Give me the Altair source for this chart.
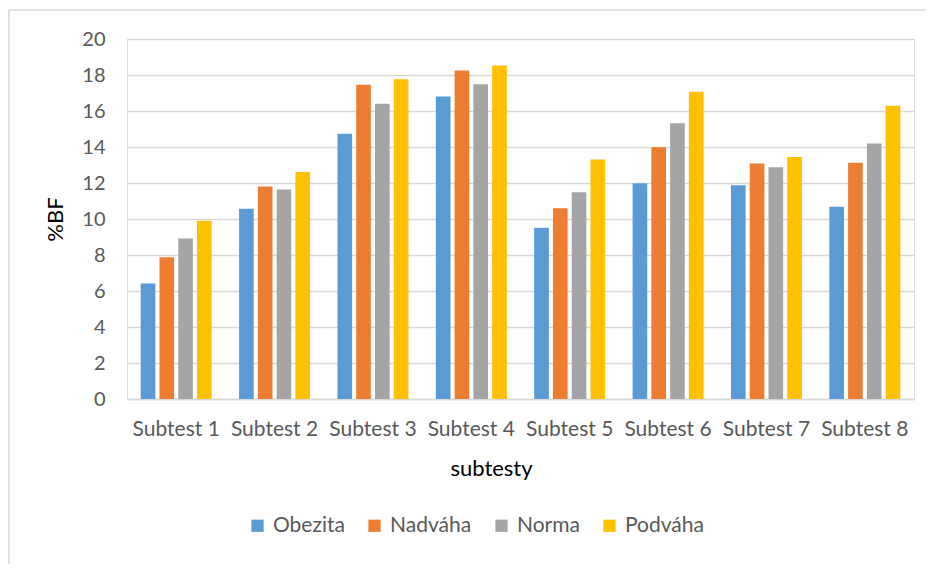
import altair as alt
import pandas as pd

categories = ["Subtest 1", "Subtest 2", "Subtest 3", "Subtest 4",
              "Subtest 5", "Subtest 6", "Subtest 7", "Subtest 8"]
series = ["Obezita", "Nadváha", "Norma", "Podváha"]
colors = ["#5B9BD5", "#ED7D31", "#A5A5A5", "#FFC000"]

obezita = [6.41, 10.57, 14.73, 16.81, 9.51, 11.98, 11.87, 10.68]
nadvaha = [7.87, 11.81, 17.46, 18.25, 10.60, 13.98, 13.09, 13.13]
norma = [8.91, 11.64, 16.40, 17.49, 11.48, 15.32, 12.87, 14.19]
podvaha = [9.90, 12.61, 17.77, 18.53, 13.31, 17.07, 13.44, 16.29]

rows = []
for s, vals in zip(series, [obezita, nadvaha, norma, podvaha]):
    for c, v in zip(categories, vals):
        rows.append({"subtest": c, "skupina": s, "value": v})
df = pd.DataFrame(rows)

FONT = "Lato"

bars = alt.Chart(df).mark_bar().encode(
    x=alt.X("subtest:N", sort=categories, title="subtesty",
            scale=alt.Scale(paddingInner=0, paddingOuter=0),
            axis=alt.Axis(labelAngle=0, labelFontSize=21, labelColor="#595959",
                          labelPadding=19, titleFontSize=22, titleColor="#000000",
                          titleFontWeight="normal", titlePadding=19,
                          titleX=364,
                          domainColor="#d9d9d9", domainWidth=1.5, ticks=False,
                          labelFont=FONT, titleFont=FONT)),
    xOffset=alt.XOffset("skupina:N", sort=series,
                        scale=alt.Scale(paddingInner=0.22, paddingOuter=0.73)),
    y=alt.Y("value:Q", title="%BF",
            scale=alt.Scale(domain=[0, 20]),
            axis=alt.Axis(values=list(range(0, 21, 2)), labelFontSize=20,
                          labelColor="#595959", labelPadding=22,
                          titleFontSize=22, titleColor="#000000",
                          titleFontWeight="normal", titlePadding=14,
                          domain=False, ticks=False, gridColor="#d9d9d9",
                          gridWidth=1.5, labelFont=FONT, titleFont=FONT)),
    color=alt.Color("skupina:N", sort=series, title=None,
                    scale=alt.Scale(domain=series, range=colors),
                    legend=alt.Legend(orient="none", direction="horizontal",
                                      legendX=120, legendY=476,
                                      symbolType="square", symbolSize=150,
                                      symbolStrokeWidth=0,
                                      labelFontSize=21, labelColor="#595959",
                                      labelFont=FONT, columnPadding=19,
                                      symbolOffset=0, labelOffset=5)),
)

frame_df = pd.DataFrame({"k": [0]})
left_border = alt.Chart(frame_df).mark_rule(color="#d9d9d9", strokeWidth=1.5).encode(
    x=alt.value(-118), y=alt.value(-29), y2=alt.value(540))
top_border = alt.Chart(frame_df).mark_rule(color="#d9d9d9", strokeWidth=1.5).encode(
    x=alt.value(-118), x2=alt.value(800), y=alt.value(-29))

chart = alt.layer(bars, left_border, top_border).properties(
    width=787, height=360,
    autosize=alt.AutoSizeParams(type="none"),
    padding={"left": 119, "top": 31, "right": 12, "bottom": 165},
).configure_view(stroke=None).configure(background="#ffffff")

chart.save("out.html", embed_options={"renderer": "svg", "actions": False})
